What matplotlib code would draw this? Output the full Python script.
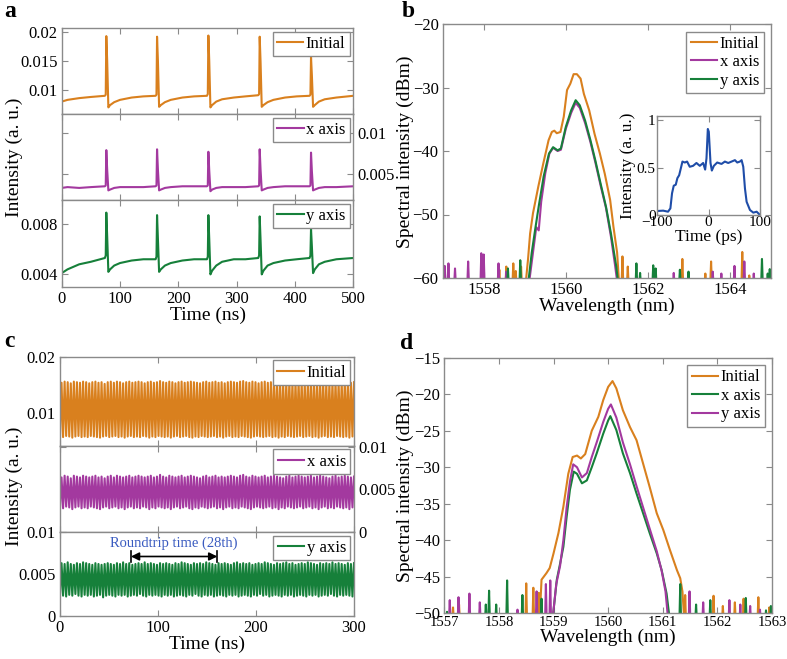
import numpy as np
import matplotlib
matplotlib.use('Agg')
import matplotlib.pyplot as plt

plt.rcParams['font.family'] = ['Liberation Serif', 'DejaVu Serif']
plt.rcParams['axes.unicode_minus'] = True
plt.rcParams['mathtext.fontset'] = 'stix'

# ---------------- data: panel a ----------------
a_time = [0, 10, 30, 50,
          74, 75.5, 76.5, 78, 80, 83, 90, 100, 120, 140,
          161, 162.5, 163.5, 165, 167, 170, 177, 187, 207, 227,
          249, 250.5, 251.5, 253, 255, 258, 265, 275, 295, 315,
          337, 338.5, 339.5, 341, 343, 346, 353, 363, 383, 403,
          425, 426.5, 427.5, 429, 431, 434, 441, 451, 471, 500]
a_initial = [0.0080, 0.0083, 0.0086, 0.0088,
             0.0090, 0.0092, 0.0193, 0.0150, 0.0070, 0.0074, 0.0079, 0.0083, 0.0087, 0.0089,
             0.0090, 0.0092, 0.0192, 0.0150, 0.0071, 0.0074, 0.0079, 0.0083, 0.0087, 0.0089,
             0.0090, 0.0093, 0.0194, 0.0150, 0.0070, 0.0074, 0.0080, 0.0084, 0.0087, 0.0089,
             0.0091, 0.0093, 0.0192, 0.0148, 0.0071, 0.0074, 0.0079, 0.0083, 0.0087, 0.0089,
             0.0090, 0.0092, 0.0157, 0.0125, 0.0071, 0.0074, 0.0080, 0.0084, 0.0087, 0.0090]
a_xaxis = [0.0033, 0.0034, 0.0033, 0.0034,
           0.0035, 0.0036, 0.0079, 0.0055, 0.0030, 0.0031, 0.0033, 0.0034, 0.0034, 0.0034,
           0.0035, 0.0036, 0.0080, 0.0055, 0.0030, 0.0031, 0.0033, 0.0034, 0.0035, 0.0035,
           0.0035, 0.0036, 0.0077, 0.0054, 0.0029, 0.0031, 0.0033, 0.0034, 0.0034, 0.0034,
           0.0035, 0.0036, 0.0080, 0.0055, 0.0030, 0.0031, 0.0033, 0.0034, 0.0035, 0.0035,
           0.0035, 0.0036, 0.0076, 0.0053, 0.0030, 0.0031, 0.0033, 0.0034, 0.0034, 0.0035]
a_yaxis = [0.0041, 0.0044, 0.0048, 0.0050,
           0.0053, 0.0055, 0.0089, 0.0070, 0.0042, 0.0044, 0.0047, 0.0049, 0.0051, 0.0052,
           0.0052, 0.0054, 0.0087, 0.0068, 0.0042, 0.0044, 0.0047, 0.0049, 0.0051, 0.0052,
           0.0052, 0.0054, 0.0087, 0.0068, 0.0040, 0.0043, 0.0047, 0.0050, 0.0052, 0.0052,
           0.0053, 0.0055, 0.0086, 0.0067, 0.0040, 0.0043, 0.0047, 0.0049, 0.0051, 0.0052,
           0.0053, 0.0055, 0.0076, 0.0062, 0.0041, 0.0044, 0.0048, 0.0050, 0.0052, 0.0053]

# ---------------- data: panel b ----------------
b_init_wl = [1559.02, 1559.08, 1559.13, 1559.2, 1559.33, 1559.45, 1559.58, 1559.66, 1559.72, 1559.78,
             1559.87, 1559.95, 1560.03, 1560.11, 1560.19, 1560.27, 1560.36, 1560.44, 1560.57, 1560.7,
             1560.83, 1560.95, 1561.08, 1561.16, 1561.25, 1561.3]
b_init_db = [-61, -57, -53, -49.8, -45.6, -42, -38.3, -37, -36.8, -37.2,
             -37, -34.6, -30.4, -29.4, -27.9, -27.9, -28.6, -31, -33.6, -37.3,
             -40.4, -43.6, -47.7, -51.9, -56, -61]
b_x_wl = [1559.1, 1559.2, 1559.28, 1559.34, 1559.4, 1559.5, 1559.6, 1559.69, 1559.8, 1559.88, 1560.0,
          1560.13, 1560.24, 1560.34, 1560.47, 1560.6, 1560.72, 1560.85, 1560.98, 1561.1, 1561.2, 1561.26]
b_x_db = [-61, -56, -52, -52.5, -48, -43.5, -40.4, -39.5, -40, -39.8, -36.5,
          -34, -32.4, -33.2, -35.6, -38.6, -41.8, -45.5, -49, -53.5, -58, -61]
b_y_wl = [1559.08, 1559.17, 1559.25, 1559.34, 1559.46, 1559.59, 1559.69, 1559.8, 1559.88, 1560.0,
          1560.13, 1560.24, 1560.34, 1560.47, 1560.6, 1560.72, 1560.85, 1560.98, 1561.1, 1561.23, 1561.28]
b_y_db = [-61, -56, -52.5, -48.7, -44, -40.4, -39.4, -39.9, -39.6, -36.2,
          -33.6, -32, -32.8, -35.2, -38.3, -41.5, -45.2, -48.8, -53, -58.2, -61]
b_init_spk_wl = [1557.03, 1558.38, 1558.55, 1558.72, 1558.78, 1558.91, 1561.38, 1561.51,
                 1562.84, 1563.4, 1563.54, 1564.3, 1564.47]
b_init_spk_db = [-58.2, -58.7, -58.2, -57.7, -58.9, -58.2, -56.6, -58.2, -57.0, -59.3, -57.4, -55.9, -59.6]
b_x_spk_wl = [1557.05, 1557.14, 1557.30, 1557.62, 1557.94, 1558.0, 1558.36, 1558.55,
              1562.63, 1563.58, 1563.79, 1564.11, 1564.35, 1564.58]
b_x_spk_db = [-58.1, -57.7, -58.5, -57.4, -56.1, -56.3, -57.7, -59.0, -59.2, -59.0, -59.3, -58.1, -57.4, -59.3]
b_y_spk_wl = [1558.59, 1558.89, 1561.72, 1561.81, 1562.13, 1562.19, 1562.78, 1562.99, 1564.78, 1564.92, 1564.97]
b_y_spk_db = [-58.5, -57.2, -57.7, -59.2, -58.0, -58.5, -58.7, -59.0, -57.0, -59.3, -58.6]

# inset pulse
inset_t = [-100, -88, -78.6, -74, -70.8, -67.5, -63.6, -60.4, -57, -53, -50.6, -46, -41.6, -36.4,
           -29.9, -23.4, -16.9, -10.4, -6.5, -3.9, -1.3, 0.6, 3.9, 6.5, 10.4, 16.9, 25.3, 31.8,
           38.3, 44.8, 51.3, 55.8, 61, 64.3, 67.5, 70.8, 74, 80.5, 87, 93.5, 98.7]
inset_i = [0.042, 0.046, 0.035, 0.07, 0.23, 0.31, 0.32, 0.39, 0.42, 0.51, 0.565, 0.555, 0.565, 0.51,
           0.52, 0.55, 0.52, 0.55, 0.48, 0.6, 0.91, 0.88, 0.55, 0.47, 0.52, 0.555, 0.54, 0.565,
           0.55, 0.565, 0.58, 0.555, 0.565, 0.58, 0.51, 0.28, 0.14, 0.053, 0.025, 0.035, 0.007]

# ---------------- data: panel c (per-cycle maxima / minima) ----------------
c_init_peak = [0.0154,0.0156,0.0155,0.0153,0.0156,0.0155,0.0154,0.0156,0.0155,0.0153,
               0.0155,0.0156,0.0154,0.0155,0.0152,0.0155,0.0156,0.0154,0.0156,0.0155,
               0.0153,0.0155,0.0156,0.0154,0.0155,0.0156,0.0155,0.0153,0.0155,0.0156,
               0.0154,0.0155,0.0157,0.0155,0.0154,0.0156,0.0155,0.0153,0.0155,0.0156,
               0.0154,0.0155,0.0156,0.0155,0.0154,0.0153,0.0155,0.0156,0.0154,0.0155,
               0.0156,0.0154,0.0155,0.0153,0.0155,0.0156,0.0155,0.0154,0.0156,0.0157,
               0.0155,0.0154,0.0156,0.0155,0.0153,0.0155,0.0156,0.0154,0.0155,0.0156,
               0.0155,0.0154,0.0153,0.0155,0.0156,0.0154,0.0155,0.0156,0.0155,0.0153,
               0.0155,0.0156,0.0154,0.0155,0.0156,0.0155,0.0154,0.0153,0.0155,0.0156,
               0.0154,0.0155,0.0156,0.0155,0.0154,0.0155]
c_init_low = [0.0059,0.0058,0.0060,0.0059,0.0057,0.0059,0.0060,0.0058,0.0059,0.0058,
              0.0060,0.0059,0.0058,0.0057,0.0059,0.0060,0.0058,0.0059,0.0060,0.0058,
              0.0059,0.0057,0.0059,0.0060,0.0058,0.0059,0.0058,0.0060,0.0059,0.0057,
              0.0059,0.0058,0.0060,0.0059,0.0058,0.0059,0.0057,0.0059,0.0060,0.0058,
              0.0059,0.0060,0.0058,0.0057,0.0059,0.0058,0.0060,0.0059,0.0058,0.0059,
              0.0060,0.0058,0.0059,0.0057,0.0059,0.0060,0.0058,0.0059,0.0058,0.0060,
              0.0059,0.0058,0.0057,0.0059,0.0060,0.0059,0.0058,0.0059,0.0060,0.0058,
              0.0059,0.0057,0.0059,0.0058,0.0060,0.0059,0.0058,0.0059,0.0060,0.0058,
              0.0059,0.0060,0.0058,0.0059,0.0057,0.0059,0.0060,0.0058,0.0059,0.0058,
              0.0060,0.0059,0.0058,0.0059,0.0057,0.0059]
c_x_peak = [0.0064,0.0066,0.0065,0.0063,0.0066,0.0065,0.0064,0.0066,0.0065,0.0064,
            0.0065,0.0066,0.0064,0.0065,0.0063,0.0065,0.0066,0.0064,0.0066,0.0065,
            0.0064,0.0065,0.0066,0.0064,0.0065,0.0066,0.0065,0.0064,0.0065,0.0066,
            0.0064,0.0065,0.0067,0.0065,0.0064,0.0066,0.0065,0.0064,0.0065,0.0066,
            0.0064,0.0065,0.0066,0.0065,0.0064,0.0063,0.0065,0.0066,0.0064,0.0065,
            0.0066,0.0064,0.0065,0.0064,0.0065,0.0066,0.0065,0.0064,0.0066,0.0067,
            0.0065,0.0064,0.0066,0.0065,0.0064,0.0065,0.0066,0.0064,0.0065,0.0066,
            0.0065,0.0064,0.0063,0.0065,0.0066,0.0064,0.0065,0.0066,0.0065,0.0064,
            0.0065,0.0066,0.0064,0.0065,0.0066,0.0065,0.0064,0.0063,0.0065,0.0066,
            0.0064,0.0065,0.0066,0.0065,0.0064,0.0065]
c_x_low = [0.0029,0.0028,0.0030,0.0029,0.0027,0.0029,0.0030,0.0028,0.0029,0.0028,
           0.0030,0.0029,0.0028,0.0027,0.0029,0.0030,0.0028,0.0029,0.0030,0.0028,
           0.0029,0.0027,0.0029,0.0030,0.0028,0.0029,0.0028,0.0030,0.0029,0.0027,
           0.0029,0.0028,0.0030,0.0029,0.0028,0.0029,0.0027,0.0029,0.0030,0.0028,
           0.0029,0.0030,0.0028,0.0027,0.0029,0.0028,0.0030,0.0029,0.0028,0.0029,
           0.0030,0.0028,0.0029,0.0027,0.0029,0.0030,0.0028,0.0029,0.0028,0.0030,
           0.0029,0.0028,0.0027,0.0029,0.0030,0.0029,0.0028,0.0029,0.0030,0.0028,
           0.0029,0.0027,0.0029,0.0028,0.0030,0.0029,0.0028,0.0029,0.0030,0.0028,
           0.0029,0.0030,0.0028,0.0029,0.0027,0.0029,0.0030,0.0028,0.0029,0.0028,
           0.0030,0.0029,0.0028,0.0029,0.0027,0.0029]
c_y_peak = [0.0063,0.0062,0.0064,0.0062,0.0061,0.0063,0.0062,0.0064,0.0063,0.0062,
            0.0061,0.0063,0.0062,0.0061,0.0062,0.0063,0.0062,0.0061,0.0063,0.0062,
            0.0064,0.0062,0.0063,0.0061,0.0062,0.0063,0.0062,0.0064,0.0062,0.0063,
            0.0062,0.0061,0.0063,0.0062,0.0063,0.0062,0.0061,0.0063,0.0062,0.0064,
            0.0063,0.0062,0.0061,0.0063,0.0062,0.0063,0.0062,0.0064,0.0063,0.0062,
            0.0061,0.0063,0.0062,0.0063,0.0062,0.0061,0.0063,0.0064,0.0062,0.0063,
            0.0062,0.0063,0.0061,0.0062,0.0063,0.0062,0.0064,0.0063,0.0062,0.0061,
            0.0063,0.0062,0.0063,0.0064,0.0062,0.0063,0.0061,0.0062,0.0063,0.0062,
            0.0064,0.0063,0.0062,0.0061,0.0063,0.0062,0.0063,0.0062,0.0064,0.0062,
            0.0063,0.0062,0.0061,0.0063,0.0062,0.0063]
c_y_low = [0.0025,0.0024,0.0023,0.0025,0.0024,0.0026,0.0024,0.0023,0.0025,0.0024,
           0.0025,0.0023,0.0024,0.0025,0.0022,0.0024,0.0025,0.0024,0.0023,0.0025,
           0.0024,0.0025,0.0023,0.0024,0.0025,0.0024,0.0026,0.0024,0.0023,0.0025,
           0.0024,0.0025,0.0024,0.0023,0.0025,0.0024,0.0025,0.0023,0.0024,0.0025,
           0.0024,0.0023,0.0025,0.0024,0.0026,0.0024,0.0023,0.0025,0.0024,0.0025,
           0.0023,0.0024,0.0025,0.0024,0.0023,0.0025,0.0024,0.0025,0.0023,0.0024,
           0.0025,0.0024,0.0023,0.0025,0.0024,0.0026,0.0024,0.0025,0.0023,0.0024,
           0.0025,0.0024,0.0023,0.0025,0.0024,0.0025,0.0023,0.0024,0.0025,0.0024,
           0.0023,0.0025,0.0024,0.0025,0.0023,0.0024,0.0025,0.0024,0.0026,0.0024,
           0.0023,0.0025,0.0024,0.0025,0.0024,0.0023]
roundtrip_start, roundtrip_end, roundtrip_level = 72.4, 160.5, 0.0071

# ---------------- data: panel d ----------------
d_init_wl = [1558.7, 1558.78, 1558.87, 1558.93, 1559.0, 1559.09, 1559.18, 1559.27, 1559.35, 1559.43,
             1559.5, 1559.58, 1559.7, 1559.82, 1559.91, 1560.0, 1560.08, 1560.15, 1560.27, 1560.4,
             1560.52, 1560.64, 1560.76, 1560.89, 1561.01, 1561.13, 1561.26, 1561.32, 1561.36, 1561.4]
d_init_db = [-51, -45.4, -44.5, -43.8, -41.8, -39.0, -35.4, -30.9, -28.6, -28.4,
             -28.8, -28.2, -25, -23.1, -20.8, -19, -18.2, -19.2, -22.2, -24.5,
             -26.3, -29.5, -32.7, -36.3, -38.6, -41.3, -44.1, -45.2, -47, -51]
d_x_wl = [1558.98, 1559.06, 1559.12, 1559.18, 1559.24, 1559.3, 1559.37, 1559.43, 1559.52, 1559.61,
          1559.7, 1559.79, 1559.91, 1560.0, 1560.04, 1560.15, 1560.27, 1560.4, 1560.52, 1560.64,
          1560.76, 1560.89, 1560.98, 1561.07, 1561.13]
d_x_db = [-51, -45.4, -43.2, -40.9, -36.8, -33.1, -30.6, -30.9, -32.2, -31.8,
          -30, -28.1, -25.4, -23.6, -23, -24.9, -28.1, -30.8, -33.6, -36.3,
          -39, -41.8, -44.1, -47.3, -51]
d_y_wl = [1558.98, 1559.05, 1559.12, 1559.18, 1559.24, 1559.3, 1559.36, 1559.43, 1559.52, 1559.61,
          1559.7, 1559.79, 1559.91, 1560.0, 1560.05, 1560.15, 1560.27, 1560.4, 1560.52, 1560.64,
          1560.76, 1560.89, 1560.98, 1561.05, 1561.1]
d_y_db = [-51, -46, -43.5, -40, -35.5, -32, -29.6, -30.0, -31.4, -30.8,
          -28.6, -26.6, -23.8, -22, -21.4, -23.2, -26.6, -29.6, -32.6, -35.5,
          -38.4, -41.5, -44.2, -47, -51]
d_init_spk_wl = [1557.16, 1557.27, 1558.5, 1558.63, 1558.73, 1561.41, 1561.93, 1562.1, 1562.32,
                 1562.48, 1562.75, 1562.95]
d_init_spk_db = [-49.2, -48.8, -45.9, -46.5, -47.2, -47.5, -47.6, -49.0, -48.5, -48.0, -47.8, -49.2]
d_x_spk_wl = [1557.05, 1557.76, 1557.82, 1557.95, 1558.15, 1558.43, 1558.78, 1561.32, 1561.61,
              1561.87, 1562.52, 1562.89, 1562.98]
d_x_spk_db = [-49.8, -48.8, -46.9, -48.8, -45.5, -47.5, -48.0, -46.0, -48.8, -48.2, -47.9, -49.6, -49.0]
d_y_spk_wl = [1557.10, 1557.26, 1557.46, 1557.65, 1558.34, 1558.69, 1558.86, 1558.94, 1561.49,
              1561.74, 1562.22, 1562.42, 1562.6, 1562.78]
d_y_spk_db = [-48.2, -47.8, -47.3, -48.5, -49.5, -47.0, -46.0, -45.5, -47.0, -48.5, -48.2, -48.8, -49.0, -49.5]

# ---------------- styling ----------------
ORANGE = '#D9801E'
PURPLE = '#A3399F'
GREEN = '#16803A'
BLUE = '#1F4DA8'
SP = '#8a8a8a'
TICK = 12
LAB = 14

W, H = 787, 659
fig = plt.figure(figsize=(W / 100, H / 100), dpi=100)


def axrect(l, t, r, b):
    return fig.add_axes([l / W, 1 - b / H, (r - l) / W, (b - t) / H])


def style(ax, size=TICK):
    for s in ax.spines.values():
        s.set_color(SP)
        s.set_linewidth(1.0)
    ax.tick_params(direction='in', length=4, width=0.8, color=SP, top=True, right=True,
                   labelsize=size, pad=3, labelcolor='black')


def leg(ax, pad=0.25):
    lg = ax.legend(loc='upper right', fontsize=12, handlelength=1.6, handletextpad=0.15,
                   borderpad=0.25, labelspacing=0.15, borderaxespad=pad, fancybox=False,
                   framealpha=1, edgecolor=SP)
    lg.get_frame().set_linewidth(1.0)
    for h in lg.get_lines():
        h.set_linewidth(1.5)
    return lg


def set_yt(ax, vals, labels):
    ax.set_yticks(vals)
    ax.set_yticklabels(labels)


def spiky(lw, lv, sw, sv, floor, xlo, xhi, hw):
    pts = list(zip(lw, lv))
    for w, v in zip(sw, sv):
        pts += [(w - hw, floor), (w, v), (w + hw, floor)]
    pts += [(xlo, floor), (xhi, floor)]
    pts.sort()
    return [p[0] for p in pts], [p[1] for p in pts]


def zigzag(lows, peaks, t0, t1):
    n = len(peaks)
    t = np.linspace(t0, t1, 2 * n)
    v = np.empty(2 * n)
    v[0::2] = lows
    v[1::2] = peaks
    return t, v

# ---------------- panel a ----------------
a_rows = [(28, 114), (114, 200), (200, 287)]
a_series = [(a_initial, ORANGE, 'Initial', (0.00586, 0.0207)),
            (a_xaxis, PURPLE, 'x axis', (0.00183, 0.0123)),
            (a_yaxis, GREEN, 'y axis', (0.0030, 0.0099))]
axes_a = []
for (t, b), (vals, col, lab, yl) in zip(a_rows, a_series):
    ax = axrect(61.7, t, 353.3, b)
    style(ax)
    ax.plot(a_time, vals, color=col, lw=1.5, label=lab)
    ax.set_xlim(0, 500)
    ax.set_ylim(*yl)
    ax.set_xticks(range(0, 501, 100))
    leg(ax, pad=0.22)
    axes_a.append(ax)
set_yt(axes_a[0], [0.01, 0.015, 0.02], ['0.01', '0.015', '0.02'])
set_yt(axes_a[1], [0.005, 0.01], ['0.005', '0.01'])
axes_a[1].tick_params(labelleft=False, labelright=True)
set_yt(axes_a[2], [0.004, 0.008], ['0.004', '0.008'])
axes_a[0].tick_params(labelbottom=False)
axes_a[1].tick_params(labelbottom=False)
axes_a[2].set_xlabel('Time (ns)', fontsize=LAB, labelpad=0)
fig.text(14 / W, 1 - 157 / H, 'Intensity (a. u.)', rotation=90, ha='center', va='center', fontsize=LAB)

# ---------------- panel b ----------------
axb = axrect(442.7, 24, 771, 278)
style(axb)
w, v = spiky(b_init_wl, b_init_db, b_init_spk_wl, b_init_spk_db, -61, 1556.9, 1565.1, 0.02)
axb.plot(w, v, color=ORANGE, lw=1.5, label='Initial')
w, v = spiky(b_x_wl, b_x_db, b_x_spk_wl, b_x_spk_db, -61, 1556.9, 1565.1, 0.02)
axb.plot(w, v, color=PURPLE, lw=1.5, label='x axis')
w, v = spiky(b_y_wl, b_y_db, b_y_spk_wl, b_y_spk_db, -61, 1556.9, 1565.1, 0.02)
axb.plot(w, v, color=GREEN, lw=1.5, label='y axis')
axb.set_xlim(1557, 1565)
axb.set_ylim(-60, -20)
axb.set_xticks([1558, 1560, 1562, 1564])
axb.set_yticks([-60, -50, -40, -30, -20])
axb.set_xlabel('Wavelength (nm)', fontsize=LAB, labelpad=0)
fig.text(405 / W, 1 - 152 / H, 'Spectral intensity (dBm)', rotation=90, ha='center', va='center',
         fontsize=LAB)
leg(axb, pad=0.45)

axi = axrect(657, 115.7, 760, 215)
style(axi, size=11)
axi.plot(inset_t, inset_i, color=BLUE, lw=1.5)
axi.set_xlim(-100, 100)
axi.set_ylim(0, 1.05)
axi.set_xticks([-100, 0, 100])
axi.set_yticks([0, 0.5, 1])
axi.set_yticklabels(['0', '0.5', '1'])
axi.tick_params(pad=1)
axi.set_xlabel('Time (ps)', fontsize=12.5, labelpad=0)
fig.text(628 / W, 1 - 166 / H, 'Intensity (a. u.)', rotation=90, ha='center', va='center', fontsize=12.5)

# ---------------- panel c ----------------
c_rows = [(356.7, 445.7), (445.7, 532.3), (532.3, 615.7)]
c_series = [(c_init_low, c_init_peak, ORANGE, 'Initial', (0.00428, 0.02)),
            (c_x_low, c_x_peak, PURPLE, 'x axis', (0, 0.0101)),
            (c_y_low, c_y_peak, GREEN, 'y axis', (0, 0.01))]
axes_c = []
for (t, b), (lo, pk, col, lab, yl) in zip(c_rows, c_series):
    ax = axrect(60, t, 354, b)
    style(ax)
    tt, vv = zigzag(lo, pk, 0, 300)
    ax.plot(tt, vv, color=col, lw=1.5, label=lab)
    ax.set_xlim(0, 300)
    ax.set_ylim(*yl)
    ax.set_xticks([0, 100, 200, 300])
    leg(ax, pad=0.22)
    axes_c.append(ax)
set_yt(axes_c[0], [0.01, 0.02], ['0.01', '0.02'])
set_yt(axes_c[1], [0, 0.005, 0.01], ['0', '0.005', '0.01'])
axes_c[1].tick_params(labelleft=False, labelright=True)
set_yt(axes_c[2], [0, 0.005, 0.01], ['0', '0.005', '0.01'])
axes_c[0].tick_params(labelbottom=False)
axes_c[1].tick_params(labelbottom=False)
axes_c[2].set_xlabel('Time (ns)', fontsize=LAB, labelpad=0)
fig.text(14 / W, 1 - 486 / H, 'Intensity (a. u.)', rotation=90, ha='center', va='center', fontsize=LAB)
axc = axes_c[2]
axc.annotate('', xy=(roundtrip_start, roundtrip_level), xytext=(roundtrip_end, roundtrip_level),
             arrowprops=dict(arrowstyle='<|-|>', color='black', lw=1.2, mutation_scale=12,
                             shrinkA=0, shrinkB=0))
for xe in (roundtrip_start, roundtrip_end):
    axc.plot([xe, xe], [roundtrip_level - 0.0007, roundtrip_level + 0.0007], color='black', lw=1.2)
axc.text((roundtrip_start + roundtrip_end) / 2, 0.0087, 'Roundtrip time (28th)', color='#3A5BC0',
         fontsize=10.5, ha='center', va='center')

# ---------------- panel d ----------------
axd = axrect(444.3, 357.7, 772, 613.3)
style(axd)
w, v = spiky(d_init_wl, d_init_db, d_init_spk_wl, d_init_spk_db, -51, 1556.9, 1563.1, 0.015)
axd.plot(w, v, color=ORANGE, lw=1.5, label='Initial')
w, v = spiky(d_x_wl, d_x_db, d_x_spk_wl, d_x_spk_db, -51, 1556.9, 1563.1, 0.015)
axd.plot(w, v, color=GREEN, lw=1.5, label='x axis')
w, v = spiky(d_y_wl, d_y_db, d_y_spk_wl, d_y_spk_db, -51, 1556.9, 1563.1, 0.015)
axd.plot(w, v, color=PURPLE, lw=1.5, label='y axis')
axd.set_xlim(1557, 1563)
axd.set_ylim(-50, -15)
axd.set_xticks(range(1557, 1564))
axd.set_yticks(range(-50, -14, 5))
axd.tick_params(axis='x', labelsize=10.5, pad=2)
axd.set_xlabel('Wavelength (nm)', fontsize=LAB, labelpad=0)
fig.text(405 / W, 1 - 486 / H, 'Spectral intensity (dBm)', rotation=90, ha='center', va='center',
         fontsize=LAB)
leg(axd, pad=0.45)

# ---------------- panel letters ----------------
for (x, y, s) in [(4, 17, 'a'), (402, 17, 'b'), (4, 347, 'c'), (400, 349, 'd')]:
    fig.text(x / W, 1 - y / H, s, fontsize=17, fontweight='bold', ha='left', va='baseline')

fig.savefig('out.png', dpi=100)
